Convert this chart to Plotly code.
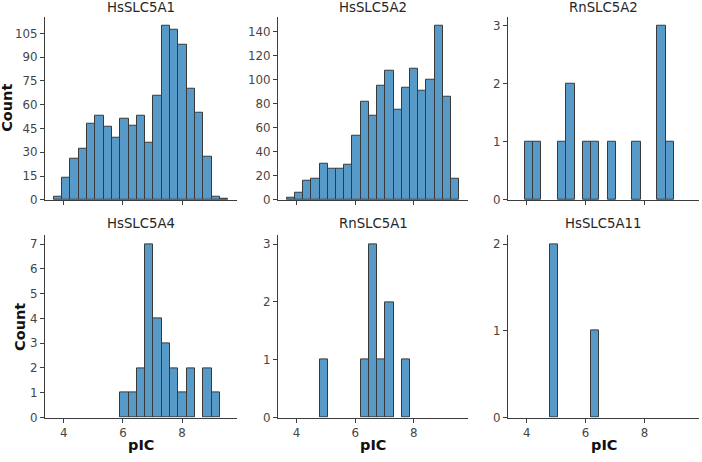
import plotly.graph_objects as go
from plotly.subplots import make_subplots

# ---- data (histogram counts on common bins) ----
BIN_START = 3.66
BIN_WIDTH = 0.281
N_BINS = 21

panel_names = ["HsSLC5A1", "HsSLC5A2", "RnSLC5A2", "HsSLC5A4", "RnSLC5A1", "HsSLC5A11"]

hs_slc5a1 = [2, 14, 26, 32, 48, 53, 46, 39, 51, 47, 53, 36, 66, 110, 107, 98, 70, 55, 27, 2, 1]
hs_slc5a2 = [2, 6, 16, 18, 30, 26, 26, 29, 53, 82, 70, 95, 107, 75, 93, 109, 91, 100, 145, 86, 18]
rn_slc5a2 = [0, 1, 1, 0, 0, 1, 2, 0, 1, 1, 0, 1, 0, 0, 1, 0, 0, 3, 1, 0, 0]
hs_slc5a4 = [0, 0, 0, 0, 0, 0, 0, 0, 1, 1, 2, 7, 4, 3, 2, 1, 2, 0, 2, 1, 0]
rn_slc5a1 = [0, 0, 0, 0, 1, 0, 0, 0, 0, 1, 3, 1, 2, 0, 1, 0, 0, 0, 0, 0, 0]
hs_slc5a11 = [0, 0, 0, 0, 2, 0, 0, 0, 0, 1, 0, 0, 0, 0, 0, 0, 0, 0, 0, 0, 0]

y_ticks = [
    [0, 15, 30, 45, 60, 75, 90, 105],
    [0, 20, 40, 60, 80, 100, 120, 140],
    [0, 1, 2, 3],
    [0, 1, 2, 3, 4, 5, 6, 7],
    [0, 1, 2, 3],
    [0, 1, 2],
]
x_ticks = [4, 6, 8]

all_counts = [hs_slc5a1, hs_slc5a2, rn_slc5a2, hs_slc5a4, rn_slc5a1, hs_slc5a11]

# ---- figure ----
W, H = 702, 462
BAR_FILL = "#5799c7"
BAR_EDGE = "#3a3a3a"
AXIS_COL = "#3d3d3d"
TICK_FONT = dict(family="DejaVu Sans", size=11.8, color="#444444")
TITLE_FONT = dict(family="DejaVu Sans", size=13.3, color="#262626")
LABEL_FONT = dict(family="DejaVu Sans", size=14.5, color="#111111")

fig = make_subplots(rows=2, cols=3)

centers = [BIN_START + (i + 0.5) * BIN_WIDTH for i in range(N_BINS)]
x_min = BIN_START
x_max = BIN_START + N_BINS * BIN_WIDTH
pad = 0.05 * (x_max - x_min)

col_px = [(45, 237), (278, 468), (508, 699)]
row_px = [(17, 203), (239, 424)]

for k, counts in enumerate(all_counts):
    r, c = k // 3 + 1, k % 3 + 1
    fig.add_trace(
        go.Bar(
            x=centers,
            y=[v if v > 0 else None for v in counts],
            width=BIN_WIDTH,
            marker=dict(color=BAR_FILL, line=dict(color=BAR_EDGE, width=1)),
            showlegend=False,
            hoverinfo="x+y",
        ),
        row=r, col=c,
    )
    x0, x1 = col_px[c - 1]
    y0, y1 = row_px[r - 1]
    xd = [x0 / W, x1 / W]
    yd = [1 - y1 / H, 1 - y0 / H]
    fig.update_xaxes(
        domain=xd, range=[x_min - pad, x_max + pad],
        tickvals=x_ticks, showticklabels=(r == 2),
        ticks="outside", ticklen=4, tickwidth=1.1, tickcolor=AXIS_COL,
        showline=True, linecolor=AXIS_COL, linewidth=1.2,
        showgrid=False, zeroline=False, tickfont=TICK_FONT,
        row=r, col=c,
    )
    fig.update_yaxes(
        domain=yd, range=[0, max(counts) * 1.05],
        tickvals=y_ticks[k],
        ticks="outside", ticklen=4, tickwidth=1.1, tickcolor=AXIS_COL,
        showline=True, linecolor=AXIS_COL, linewidth=1.2,
        showgrid=False, zeroline=False, tickfont=TICK_FONT,
        row=r, col=c,
    )
    # panel title
    fig.add_annotation(
        text=panel_names[k], x=(x0 + x1) / 2 / W, y=1 - ((8 if r == 1 else 227) / H),
        xref="paper", yref="paper", showarrow=False, font=TITLE_FONT,
        xanchor="center", yanchor="middle",
    )

# axis labels
fig.add_annotation(text="<b>Count</b>", x=7.5 / W, y=1 - 110 / H, xref="paper", yref="paper",
                   showarrow=False, textangle=-90, font=LABEL_FONT, xanchor="center", yanchor="middle")
fig.add_annotation(text="<b>Count</b>", x=20 / W, y=1 - 332 / H, xref="paper", yref="paper",
                   showarrow=False, textangle=-90, font=LABEL_FONT, xanchor="center", yanchor="middle")
for c in range(3):
    x0, x1 = col_px[c]
    fig.add_annotation(text="<b>pIC</b>", x=(x0 + x1) / 2 / W, y=1 - 452 / H, xref="paper", yref="paper",
                       showarrow=False, font=LABEL_FONT, xanchor="center", yanchor="middle")

fig.update_layout(
    width=W, height=H,
    margin=dict(l=0, r=0, t=0, b=0),
    paper_bgcolor="white", plot_bgcolor="white",
    bargap=0,
    font=dict(family="DejaVu Sans"),
)

fig.write_html("out.html")
